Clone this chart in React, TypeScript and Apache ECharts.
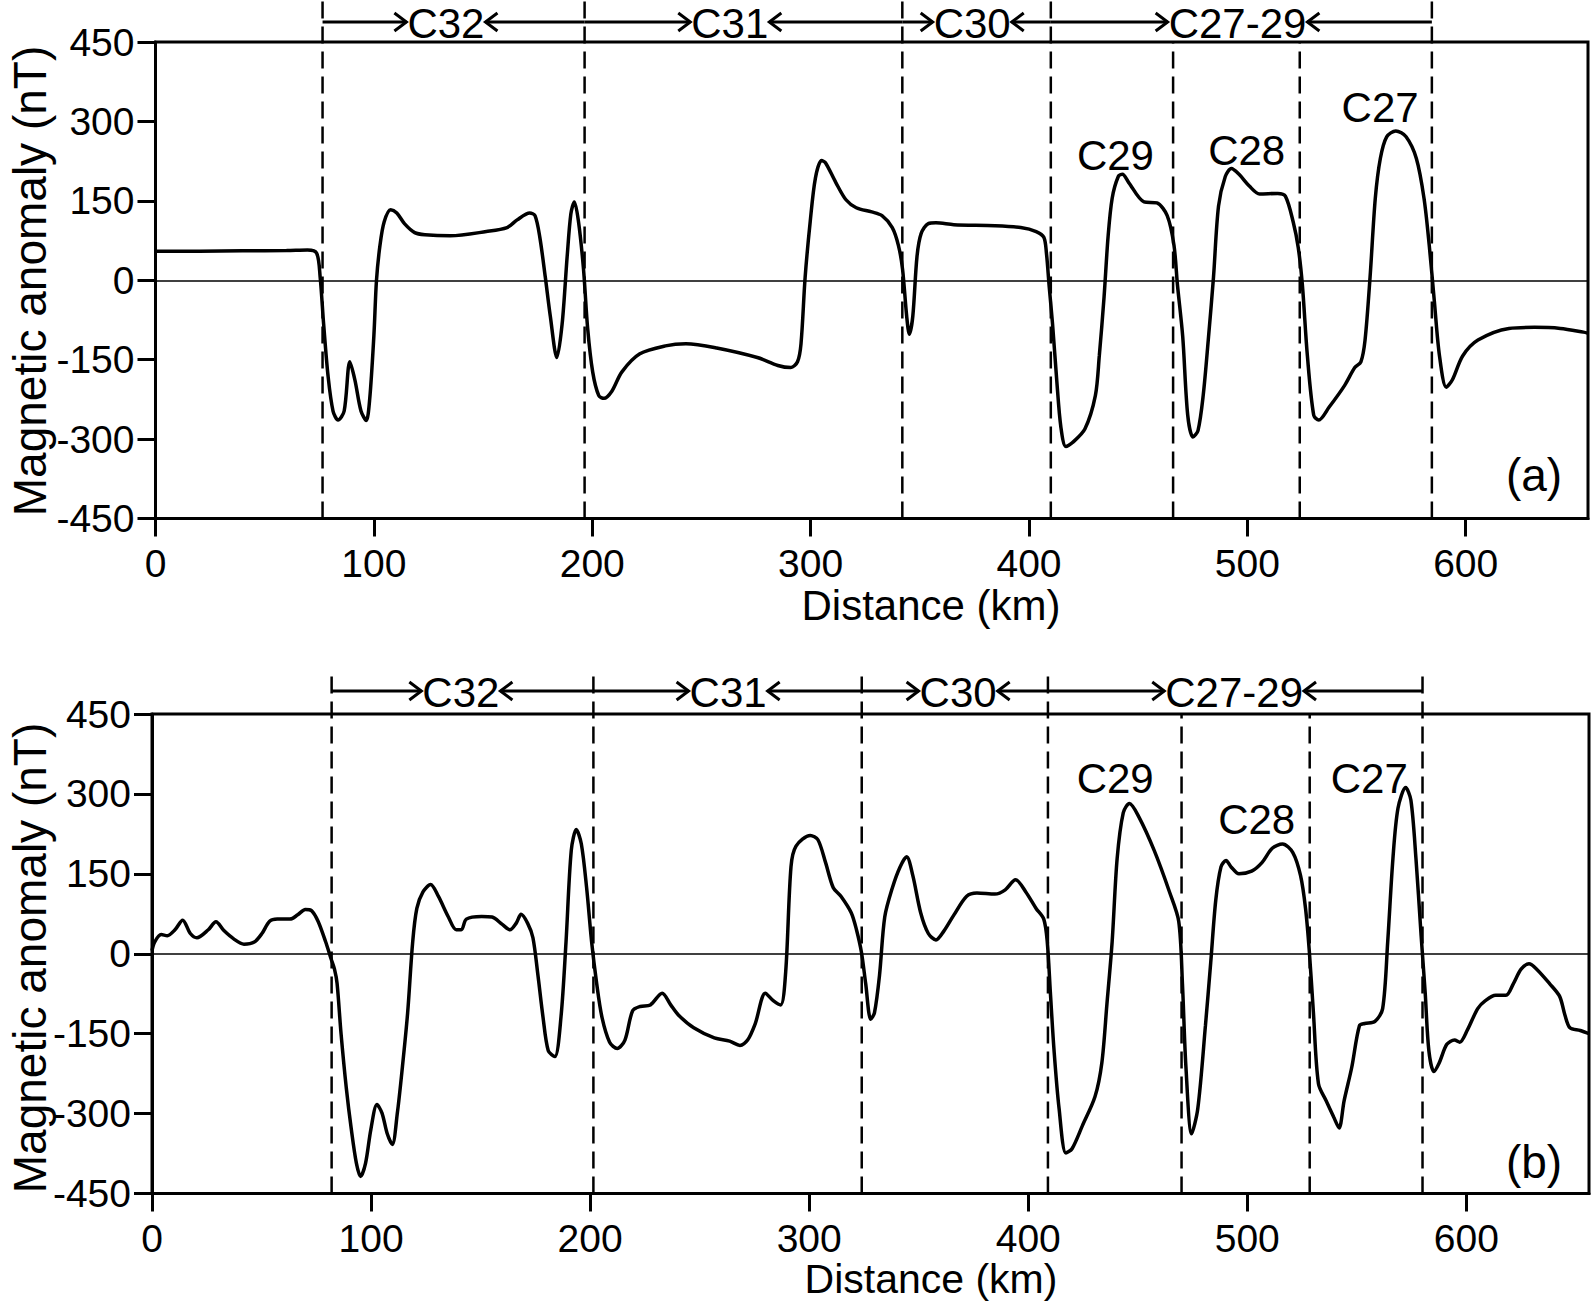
import React, { useEffect, useRef } from "react";
import * as echarts from "echarts";

const FONT = '"Liberation Sans", Arial, sans-serif';

// axes
const xTicks = [0, 100, 200, 300, 400, 500, 600];
const xMin = 0;
const xMax = 656;
const yMin = -450;
const yMax = 450;
const yInterval = 150;

// profile (a): [distance km, anomaly nT]
const profileA: [number, number][] = [
  [0, 55], [20, 55], [40, 55.5], [60, 56], [69.6, 57], [73.8, 51], [75.4, 6], [77, -83], [79, -180],
  [81.3, -247], [83.6, -264], [86.4, -247], [89, -154], [91.3, -188], [94.1, -247], [96.5, -265],
  [98.1, -224], [100, -105], [101.2, 0], [102.8, 66], [104.7, 110], [107.7, 133], [110.5, 127],
  [114, 107], [118.7, 90], [123.4, 86], [135, 84], [151.5, 92], [161, 99.5], [165.6, 114],
  [171.4, 127], [173.8, 122], [176, 81], [178.5, 6], [180.8, -68], [183.8, -146], [186.2, -83],
  [188.5, 44], [190.2, 125], [191.8, 148], [193.7, 111], [196, 21], [197.9, -91], [200.2, -173],
  [203, -218], [205.4, -223], [208.9, -210], [213.6, -173], [221.8, -139], [233.5, -124],
  [242.9, -120], [257, -128], [275.6, -146], [285, -161], [290.9, -165], [294, -154], [295.6, -120],
  [297.5, 6], [299.8, 110], [302.2, 193], [305, 226], [306.8, 222], [311.5, 185], [316.2, 152],
  [320.9, 137], [328, 129], [332.7, 122], [337.4, 99.5], [340.2, 66], [342.1, 21], [344, -68],
  [345.2, -102], [346.8, -68], [348.7, 44], [350.6, 88], [353.9, 107], [357.4, 108.5], [365.6, 105],
  [384.5, 103], [396.2, 99.5], [403.3, 92], [406.8, 81], [408, 51], [409.2, -9], [410.8, -83],
  [412.7, -188], [414.6, -277], [416.9, -314], [419.8, -307], [425.6, -281], [430.4, -218],
  [432.2, -143], [434.4, -31], [436.2, 81], [438.1, 155], [440.9, 196], [442.8, 200], [445.6, 185],
  [452.7, 148], [458.6, 146], [463.3, 122], [466.4, 66], [468, -9], [470.4, -106], [472.7, -255],
  [475.1, -296], [477.4, -284], [479.8, -217], [482.1, -113], [484.5, 6], [486.8, 140], [489.9, 196],
  [492.7, 211], [496.2, 200], [500.9, 178], [505.6, 163], [513.9, 164], [517.4, 159], [521, 110],
  [523.3, 62], [525.2, -9], [527.5, -143], [530.4, -255], [532.7, -264], [537.4, -240], [544.5, -199],
  [549.2, -165], [552, -154], [553.9, -113], [556.2, 6], [558.6, 155], [560.9, 230], [563.8, 271],
  [568, 282], [572.7, 271], [577.4, 230], [580.9, 155], [583.3, 66], [585.6, -38], [588, -143],
  [591.1, -202], [593.9, -188], [598.6, -143], [605.6, -113], [619.8, -91], [631.5, -89],
  [643.3, -91], [653.9, -98], [656, -100],
];

// profile (b)
const profileB: [number, number][] = [
  [0, 6], [1.2, 22], [4.2, 36], [7, 34], [10.5, 45], [14, 63], [17.5, 38], [20.5, 30], [25.7, 45],
  [29.2, 60], [32.7, 44], [37.3, 28], [42, 18], [46.7, 22], [50.2, 38], [53.7, 61], [57.2, 65],
  [63, 65], [66.5, 73], [70, 83], [72.8, 81], [75.8, 61], [79.3, 22], [81.7, -9], [83.3, -29],
  [84.5, -56], [86.3, -150], [88.7, -252], [91, -330], [93.3, -393], [95.2, -418], [97.5, -393],
  [99.9, -330], [102.7, -283], [105, -299], [107.4, -338], [109.7, -358], [112, -299], [114.3, -213],
  [116.7, -111], [119, 22], [120.9, 85], [123.7, 116], [127.2, 130], [130.7, 108], [135.3, 69],
  [138.9, 45], [141.2, 45], [143.5, 65], [150.5, 70], [155.2, 69], [159.9, 55], [163.4, 45],
  [166.2, 57], [168.5, 74], [171.5, 57], [173.9, 30], [176.2, -41], [178.5, -119], [180.9, -182],
  [183.9, -193], [186.7, -119], [189, 22], [191.4, 194], [193.7, 233], [196, 206], [198.4, 124],
  [200.7, 22], [203, -56], [205.4, -119], [208.9, -166], [212.4, -178], [215.9, -162], [219.4, -107],
  [222.9, -99], [227.5, -96], [232.9, -74], [236.8, -96], [240.3, -115], [247.3, -139], [256.7, -158],
  [263.7, -164], [268.4, -172], [271.9, -162], [275.4, -131], [280, -74], [283.6, -88], [287, -96],
  [289.3, -33], [291.7, 163], [294, 202], [300.5, 222], [304, 214], [307.5, 171], [311, 124],
  [314.5, 108], [319.2, 77], [321.6, 45], [323.9, 2], [325.8, -56], [328.1, -123], [329.8, -111],
  [332.1, -41], [334.5, 69], [338, 124], [341.5, 163], [344.5, 182], [347.3, 147], [350.9, 77],
  [354.4, 38], [357.9, 26], [361.4, 42], [366.1, 73], [371.9, 108], [376.6, 114], [384.8, 112],
  [389.5, 120], [394.2, 139], [398.9, 116], [403.6, 85], [407.1, 65], [408.7, 22], [410.1, -72],
  [411.8, -182], [414.1, -291], [417.2, -374], [420, -366], [424.7, -323], [430.5, -268],
  [433.6, -205], [435.9, -96], [438.3, 22], [440.6, 179], [443.4, 265], [446.2, 282], [450.5, 257],
  [457.5, 194], [464.5, 116], [468.7, 61], [470.4, -56], [472, -213], [474.6, -338], [477.4, -291],
  [480.9, -135], [483.3, -17], [485.6, 100], [488, 163], [490.3, 175], [492.6, 163], [496.2, 150],
  [502, 155], [506.7, 171], [511.4, 198], [516.1, 206], [520.8, 190], [524.3, 147], [526.6, 85],
  [528.3, 6], [530.2, -111], [532.5, -244], [536, -276], [539.5, -307], [541.9, -327], [544.2, -276],
  [547.7, -213], [551.2, -135], [553.6, -131], [558.3, -127], [561.8, -103], [564.1, 22],
  [566.5, 179], [568.8, 273], [572.3, 312], [574.7, 288], [577, 179], [579.3, 38], [581.2, -72],
  [582.9, -182], [585.2, -221], [587.6, -205], [591.1, -170], [594.6, -162], [597, -166],
  [600.5, -143], [605.2, -103], [608.7, -88], [613.4, -78], [618.1, -78], [621.5, -56], [625, -29],
  [628.6, -19], [632.1, -29], [638, -56], [642.6, -80], [645, -115], [647.3, -139], [652, -144],
  [656, -150],
];

// chron boundaries (km); 1 = line extends above the frame
const boundariesA = [76.5, 196.5, 342, 410, 466, 524, 584.5];
const boundariesB = [82, 201.5, 324, 409, 470, 528.5, 580];
const boundaryExtends = [1, 1, 1, 1, 0, 0, 1];

// chron intervals on top
const chronLabels = ["C32", "C31", "C30", "C27-29"];
const chronSpanA: [number, number][] = [[76.5, 196.5], [196.5, 342], [342, 410], [410, 584.5]];
const chronSpanB: [number, number][] = [[82, 201.5], [201.5, 324], [324, 409], [409, 580]];
const chronCenterA = [133, 263, 374, 495.5];
const chronCenterB = [141, 263, 368, 494];

// peak labels
const peakLabels = ["C29", "C28", "C27"];
const peakPosA: [number, number][] = [[439.6, 236], [499.7, 245], [560.8, 326]];
const peakPosB: [number, number][] = [[439.7, 329], [504.3, 252], [555.7, 329]];

const panelLabels = ["(a)", "(b)"];

let measureCtx: CanvasRenderingContext2D | null = null;
function textWidth(t: string, size: number): number {
  if (!measureCtx) measureCtx = document.createElement("canvas").getContext("2d");
  if (!measureCtx) return t.length * size * 0.55;
  measureCtx.font = `${size}px "Liberation Sans", Arial, sans-serif`;
  return measureCtx.measureText(t).width;
}

const BLACK = "#000";
const CHRON_FS = 42;
const TICK_FS = 39;

function boundaryRender(params: any, api: any) {
  const x = api.value(0);
  const ext = api.value(1);
  const b = api.coord([x, yMin]);
  const t = api.coord([x, yMax]);
  return {
    type: "line",
    shape: { x1: b[0], y1: b[1], x2: t[0], y2: t[1] - (ext ? 42 : 0) },
    style: { stroke: BLACK, lineWidth: 2.5, lineDash: [17, 8] },
  };
}

function arrowRender(offset: number) {
  return (params: any, api: any) => {
    const x0 = api.value(0);
    const x1 = api.value(1);
    const xc = api.value(2);
    const idx = api.value(3);
    const pL = api.coord([x0, yMax]);
    const pR = api.coord([x1, yMax]);
    const pC = api.coord([xc, yMax]);
    const y = pL[1] - offset;
    const label = chronLabels[idx];
    const hw = textWidth(label, CHRON_FS) / 2;
    const tipL = pC[0] - hw - 1;
    const tipR = pC[0] + hw + 1;
    const ah = 12;
    const aw = 9;
    const st = { stroke: BLACK, lineWidth: 3, fill: null };
    return {
      type: "group",
      children: [
        { type: "line", shape: { x1: pL[0], y1: y, x2: tipL, y2: y }, style: st },
        { type: "polyline", shape: { points: [[tipL - ah, y - aw], [tipL, y], [tipL - ah, y + aw]] }, style: st },
        { type: "line", shape: { x1: tipR, y1: y, x2: pR[0], y2: y }, style: st },
        { type: "polyline", shape: { points: [[tipR + ah, y - aw], [tipR, y], [tipR + ah, y + aw]] }, style: st },
        {
          type: "text",
          style: {
            text: label, x: pC[0], y: y + 1, align: "center", verticalAlign: "middle",
            fontSize: CHRON_FS, fontFamily: FONT, fill: BLACK,
          },
        },
      ],
    };
  };
}

function peakRender(params: any, api: any) {
  const p = api.coord([api.value(0), api.value(1)]);
  const idx = api.value(2);
  return {
    type: "text",
    style: {
      text: peakLabels[idx], x: p[0], y: p[1], align: "center", verticalAlign: "middle",
      fontSize: CHRON_FS, fontFamily: FONT, fill: BLACK,
    },
  };
}

function makeXAxis(gridIndex: number) {
  return {
    gridIndex, type: "value", min: xMin, max: xMax, interval: 100,
    axisLine: { show: true, onZero: false, lineStyle: { color: BLACK, width: 3 } },
    axisTick: { show: true, inside: false, length: 18, lineStyle: { color: BLACK, width: 3 }, customValues: xTicks },
    axisLabel: { customValues: xTicks, fontSize: TICK_FS, color: BLACK, fontFamily: FONT, margin: 25 },
    splitLine: { show: false },
  };
}

function makeYAxis(gridIndex: number) {
  return {
    gridIndex, type: "value", min: yMin, max: yMax, interval: yInterval,
    axisLine: { show: true, onZero: false, lineStyle: { color: BLACK, width: 3 } },
    axisTick: { show: true, inside: false, length: 18, lineStyle: { color: BLACK, width: 3 } },
    axisLabel: { fontSize: TICK_FS, color: BLACK, fontFamily: FONT, margin: 21 },
    splitLine: { show: false },
  };
}

function lineSeries(idx: number, data: [number, number][]) {
  return {
    type: "line", xAxisIndex: idx, yAxisIndex: idx, data, showSymbol: false, symbol: "none",
    smooth: 0.3, lineStyle: { color: BLACK, width: 3.5 }, z: 5,
    markLine: {
      silent: true, symbol: ["none", "none"], label: { show: false },
      lineStyle: { color: BLACK, width: 1.6, type: "solid" },
      data: [{ yAxis: 0 }],
    },
  };
}

export default function App() {
  const ref = useRef<HTMLDivElement>(null);
  useEffect(() => {
    document.body.style.margin = "0";
    if (!ref.current) return;
    const chart = echarts.init(ref.current, null, { renderer: "svg" });
    const titleStyle = { fontFamily: FONT, fill: BLACK, align: "center", verticalAlign: "middle" };
    const option: any = {
      animation: false,
      backgroundColor: "#fff",
      grid: [
        { left: 155.5, top: 42, width: 1432.5, height: 476.5, show: true, borderColor: BLACK, borderWidth: 3 },
        { left: 152, top: 714, width: 1437, height: 479.5, show: true, borderColor: BLACK, borderWidth: 3 },
      ],
      xAxis: [makeXAxis(0), makeXAxis(1)],
      yAxis: [makeYAxis(0), makeYAxis(1)],
      series: [
        lineSeries(0, profileA),
        lineSeries(1, profileB),
        {
          type: "custom", xAxisIndex: 0, yAxisIndex: 0, clip: false, silent: true,
          data: boundariesA.map((x, i) => [x, boundaryExtends[i]]), renderItem: boundaryRender,
        },
        {
          type: "custom", xAxisIndex: 1, yAxisIndex: 1, clip: false, silent: true,
          data: boundariesB.map((x, i) => [x, boundaryExtends[i]]), renderItem: boundaryRender,
        },
        {
          type: "custom", xAxisIndex: 0, yAxisIndex: 0, clip: false, silent: true,
          data: chronSpanA.map((s, i) => [s[0], s[1], chronCenterA[i], i]), renderItem: arrowRender(20),
        },
        {
          type: "custom", xAxisIndex: 1, yAxisIndex: 1, clip: false, silent: true,
          data: chronSpanB.map((s, i) => [s[0], s[1], chronCenterB[i], i]), renderItem: arrowRender(23),
        },
        {
          type: "custom", xAxisIndex: 0, yAxisIndex: 0, clip: false, silent: true,
          data: peakPosA.map((p, i) => [p[0], p[1], i]), renderItem: peakRender,
        },
        {
          type: "custom", xAxisIndex: 1, yAxisIndex: 1, clip: false, silent: true,
          data: peakPosB.map((p, i) => [p[0], p[1], i]), renderItem: peakRender,
        },
      ],
      graphic: [
        { type: "text", x: 30, y: 281, rotation: Math.PI / 2, style: { ...titleStyle, text: "Magnetic anomaly (nT)", fontSize: 46 } },
        { type: "text", x: 30, y: 958, rotation: Math.PI / 2, style: { ...titleStyle, text: "Magnetic anomaly (nT)", fontSize: 46 } },
        { type: "text", x: 931, y: 605, style: { ...titleStyle, text: "Distance (km)", fontSize: 42, lineHeight: 40 } },
        { type: "text", x: 931, y: 1279, style: { ...titleStyle, text: "Distance (km)", fontSize: 41, lineHeight: 40 } },
        { type: "text", x: 1534, y: 475, style: { ...titleStyle, text: panelLabels[0], fontSize: 46 } },
        { type: "text", x: 1534, y: 1162, style: { ...titleStyle, text: panelLabels[1], fontSize: 46 } },
      ],
    };
    chart.setOption(option);
    return () => chart.dispose();
  }, []);
  return <div ref={ref} style={{ width: 1594, height: 1304 }} />;
}
